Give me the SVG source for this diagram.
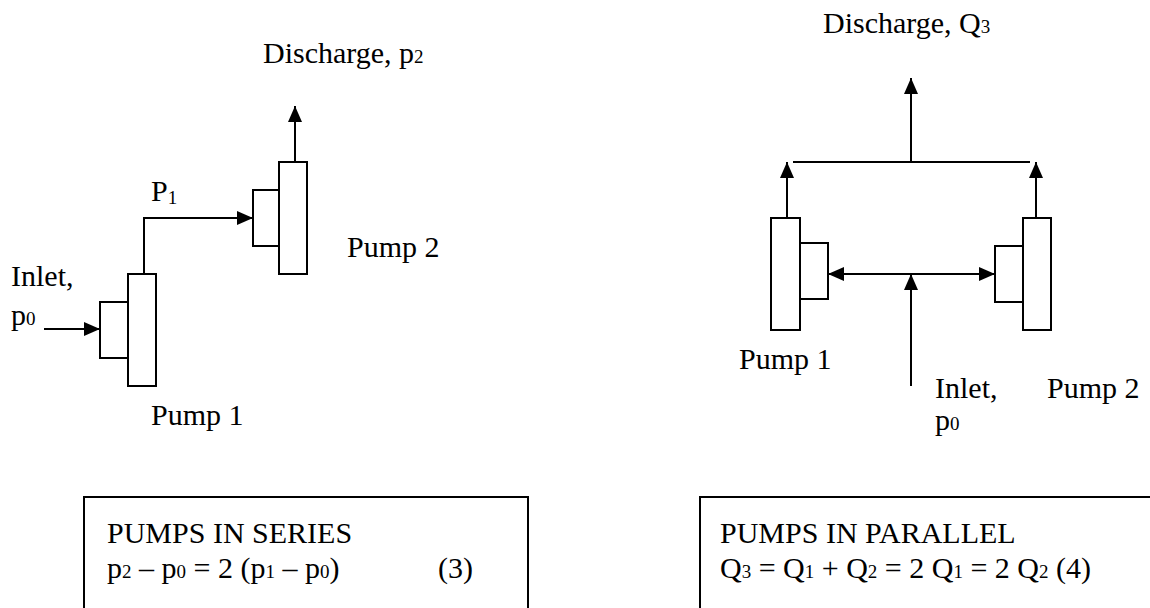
<svg xmlns="http://www.w3.org/2000/svg" width="1150" height="608" viewBox="0 0 1150 608">
<defs>
<style>
.t{font-family:"Liberation Serif","Times New Roman",serif;font-size:30px;fill:#000}
.s{font-size:19px}
.ln{stroke:#000;stroke-width:2;fill:none}
.pump{stroke:#000;stroke-width:2;fill:#fff}
.ar{marker-end:url(#ah)}
</style>
<marker id="ah" markerUnits="userSpaceOnUse" markerWidth="16" markerHeight="14" refX="16" refY="7" orient="auto-start-reverse" viewBox="0 0 16 14">
<path d="M0,0 L16,7 L0,14 z" fill="#000"/>
</marker>
</defs>
<rect width="1150" height="608" fill="#fff"/>

<g id="connectors">
<line class="ln ar" x1="44" y1="329" x2="100" y2="329"/>
<path class="ln ar" d="M144,274 V218 H253"/>
<line class="ln ar" x1="295" y1="162" x2="295" y2="106"/>
<line class="ln" x1="828" y1="274" x2="995" y2="274" marker-start="url(#ah)" marker-end="url(#ah)"/>
<line class="ln ar" x1="911" y1="386" x2="911" y2="274"/>
<line class="ln ar" x1="787" y1="218" x2="787" y2="162"/>
<line class="ln ar" x1="1036" y1="218" x2="1036" y2="162"/>
<line class="ln" x1="793" y1="162" x2="1030" y2="162"/>
<line class="ln ar" x1="911" y1="162" x2="911" y2="78"/>
</g>

<g id="series-pump1">
<rect class="pump" x="128" y="274" width="28" height="112"/>
<rect class="pump" x="100" y="302" width="28" height="56"/>
<text class="t" x="151" y="425">Pump 1</text>
</g>
<g id="series-pump2">
<rect class="pump" x="279" y="162" width="28" height="112"/>
<rect class="pump" x="253" y="190" width="26" height="56"/>
<text class="t" x="347" y="257">Pump 2</text>
</g>
<g id="series-labels">
<text class="t" x="263" y="63">Discharge, p<tspan class="s">2</tspan></text>
<text class="t" x="151" y="201">P<tspan class="s" dy="3">1</tspan></text>
<text class="t" x="11" y="286">Inlet,</text>
<text class="t" x="11" y="325">p<tspan class="s">0</tspan></text>
</g>

<g id="parallel-pump1">
<rect class="pump" x="771" y="218" width="29" height="112"/>
<rect class="pump" x="800" y="243" width="28" height="56"/>
<text class="t" x="739" y="369">Pump 1</text>
</g>
<g id="parallel-pump2">
<rect class="pump" x="1023" y="218" width="28" height="112"/>
<rect class="pump" x="995" y="246" width="28" height="56"/>
<text class="t" x="1047" y="398">Pump 2</text>
</g>
<g id="parallel-labels">
<text class="t" x="823" y="33">Discharge, Q<tspan class="s">3</tspan></text>
<text class="t" x="935" y="398">Inlet,</text>
<text class="t" x="935" y="430">p<tspan class="s">0</tspan></text>
</g>

<g id="series-box">
<path class="ln" d="M84,608 V497 H528 V608"/>
<text class="t" x="107" y="543">PUMPS IN SERIES</text>
<text class="t" x="107" y="578">p<tspan class="s">2</tspan> – p<tspan class="s">0</tspan> = 2 (p<tspan class="s">1</tspan> – p<tspan class="s">0</tspan>)</text>
<text class="t" x="438" y="578">(3)</text>
</g>
<g id="parallel-box">
<path class="ln" d="M700,608 V497 H1152"/>
<text class="t" x="720" y="543">PUMPS IN PARALLEL</text>
<text class="t" x="720" y="578">Q<tspan class="s">3</tspan> = Q<tspan class="s">1</tspan> + Q<tspan class="s">2</tspan> = 2 Q<tspan class="s">1</tspan> = 2 Q<tspan class="s">2</tspan></text>
<text class="t" x="1056" y="578">(4)</text>
</g>
</svg>
